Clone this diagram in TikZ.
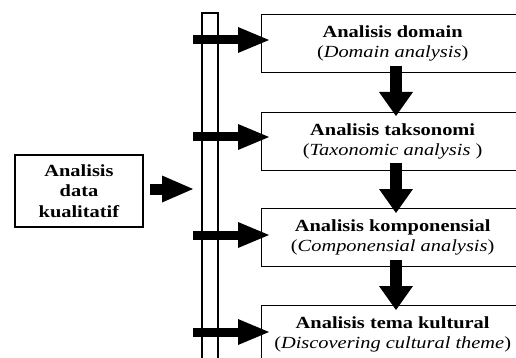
\documentclass[tikz,border=0pt]{standalone}
\usepackage{fontspec}
\setmainfont{Liberation Serif}[FakeStretch=1.2]
\usetikzlibrary{arrows.meta}
\begin{document}
\begin{tikzpicture}[x=1pt,y=-1pt,
  box/.style={draw, line width=1.3pt, inner sep=0pt, align=center,
    font=\fontsize{17pt}{20.5pt}\selectfont},
  stagebox/.style={box, minimum width=262pt, minimum height=58pt, anchor=north west},
  harrow/.style={line width=9pt, -{Triangle[length=31pt,width=26pt,line width=0pt]}},
  varrow/.style={line width=12pt, -{Triangle[length=24pt,width=34pt,line width=0pt]}},
  larrow/.style={line width=11pt, -{Triangle[length=31pt,width=27pt,line width=0pt]}}]
\useasboundingbox (0,0) rectangle (516,358);
\clip (0,0) rectangle (516,358);
% bar
\draw[line width=1.3pt] (202,370) -- (202,13) -- (218,13) -- (218,370);
% left box
\node[box, minimum width=128pt, minimum height=72pt] (src) at (79,191)
  {\textbf{Analisis}\\\textbf{data}\\\textbf{kualitatif}};
% stage boxes
\node[stagebox] (b1) at (261,14) {\textbf{Analisis domain}\\(\textit{Domain analysis})};
\node[stagebox] (b2) at (261,112) {\textbf{Analisis taksonomi}\\(\textit{Taxonomic analysis} )};
\node[stagebox] (b3) at (261,208) {\textbf{Analisis komponensial}\\(\textit{Componensial analysis})};
\node[stagebox] (b4) at (261,305) {\textbf{Analisis tema kultural}\\(\textit{Discovering cultural theme})};
% coordinates
\coordinate (l1) at (150,189); \coordinate (l2) at (193,189);
\coordinate (h1s) at (193,40);  \coordinate (h1e) at (269,40);
\coordinate (h2s) at (193,137); \coordinate (h2e) at (269,137);
\coordinate (h3s) at (193,235); \coordinate (h3e) at (269,235);
\coordinate (h4s) at (193,332); \coordinate (h4e) at (269,332);
\coordinate (v1s) at (396,66);  \coordinate (v1e) at (396,116);
\coordinate (v2s) at (396,163); \coordinate (v2e) at (396,213);
\coordinate (v3s) at (396,260); \coordinate (v3e) at (396,310);
% arrows
\draw[larrow] (l1) -- (l2);
\draw[harrow] (h1s) -- (h1e);
\draw[harrow] (h2s) -- (h2e);
\draw[harrow] (h3s) -- (h3e);
\draw[harrow] (h4s) -- (h4e);
\draw[varrow] (v1s) -- (v1e);
\draw[varrow] (v2s) -- (v2e);
\draw[varrow] (v3s) -- (v3e);
\end{tikzpicture}
\end{document}
